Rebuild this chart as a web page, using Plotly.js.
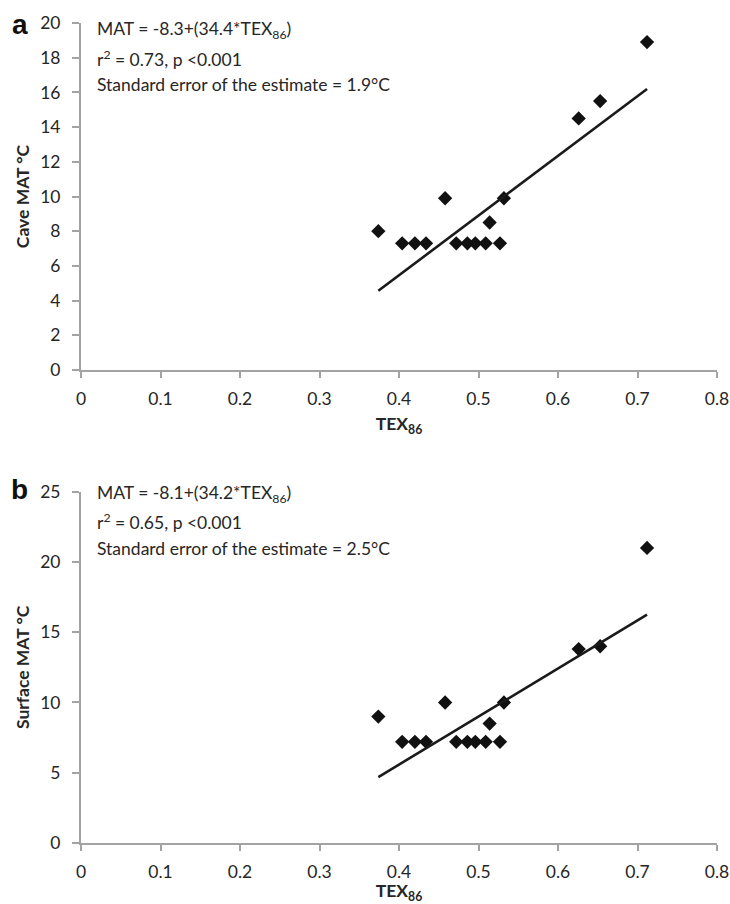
<!DOCTYPE html>
<html>
<head>
<meta charset="utf-8">
<script src="https://cdn.plot.ly/plotly-3.0.1.min.js"></script>
<style>html,body{margin:0;padding:0;background:#fff;}#chart{width:730px;height:904px;}</style>
</head>
<body>
<div id="chart"></div>
<script>
// ---- data ----
const tex86 = [0.374, 0.404, 0.420, 0.434, 0.458, 0.472, 0.486, 0.496, 0.509, 0.514, 0.527, 0.532, 0.626, 0.653, 0.712];
const caveMAT = [8.0, 7.3, 7.3, 7.3, 9.9, 7.3, 7.3, 7.3, 7.3, 8.5, 7.3, 9.9, 14.5, 15.5, 18.9];
const surfaceMAT = [9.0, 7.2, 7.2, 7.2, 10.0, 7.2, 7.2, 7.2, 7.2, 8.5, 7.2, 10.0, 13.8, 14.0, 21.0];
const caveFit = {intercept: -8.3, slope: 34.4};
const surfaceFit = {intercept: -8.1, slope: 34.2};
const xTicks = [0, 0.1, 0.2, 0.3, 0.4, 0.5, 0.6, 0.7, 0.8];
const caveTicks = [0, 2, 4, 6, 8, 10, 12, 14, 16, 18, 20];
const surfaceTicks = [0, 5, 10, 15, 20, 25];
const caveText = ["MAT = -8.3+(34.4*TEX<sub>86</sub>)", "r<sup>2</sup> = 0.73, p <0.001", "Standard error of the estimate = 1.9°C"];
const surfaceText = ["MAT = -8.1+(34.2*TEX<sub>86</sub>)", "r<sup>2</sup> = 0.65, p <0.001", "Standard error of the estimate = 2.5°C"];

// ---- layout helpers ----
const W = 730, H = 904;
const M = {l: 81, r: 13, t: 23, b: 61};
const plotH = H - M.t - M.b;
const py = p => (H - M.b - p) / plotH; // pixel y -> paper y
const px = p => (p - M.l) / (W - M.l - M.r);

const FONT = "Lato, 'Open Sans', 'DejaVu Sans', sans-serif";
const grey = "#a3a3a3";
const txt = "#262626";
const FS = 17.5;

const xMin = Math.min(...tex86), xMax = Math.max(...tex86);
function fitLine(fit) {
  return [fit.intercept + fit.slope * xMin, fit.intercept + fit.slope * xMax];
}

const marker = {symbol: "diamond", size: 11, color: "#111"};
const traces = [
  {x: tex86, y: caveMAT, mode: "markers", type: "scatter", marker: marker, xaxis: "x", yaxis: "y", hoverinfo: "skip"},
  {x: [xMin, xMax], y: fitLine(caveFit), mode: "lines", type: "scatter", line: {color: "#1a1a1a", width: 2.6}, xaxis: "x", yaxis: "y", hoverinfo: "skip"},
  {x: tex86, y: surfaceMAT, mode: "markers", type: "scatter", marker: marker, xaxis: "x2", yaxis: "y2", hoverinfo: "skip"},
  {x: [xMin, xMax], y: fitLine(surfaceFit), mode: "lines", type: "scatter", line: {color: "#1a1a1a", width: 2.6}, xaxis: "x2", yaxis: "y2", hoverinfo: "skip"}
];

function xAxis(anchor) {
  return {
    anchor: anchor, domain: [0, 1], range: [0, 0.8], tickvals: xTicks, ticktext: xTicks.map(String),
    showgrid: false, zeroline: false, showline: true, linecolor: grey, linewidth: 2,
    ticks: "outside", ticklen: 6, tickwidth: 2, tickcolor: grey, ticklabelstandoff: 6,
    tickfont: {family: FONT, size: FS, color: txt},
    title: {text: "<b>TEX<sub>86</sub></b>", font: {family: FONT, size: FS, color: txt}, standoff: 10}
  };
}
function yAxis(anchor, domain, range, ticks, title) {
  return {
    anchor: anchor, domain: domain, range: range, tickvals: ticks, ticktext: ticks.map(String),
    showgrid: false, zeroline: false, showline: true, linecolor: grey, linewidth: 2,
    ticks: "outside", ticklen: 7, tickwidth: 2, tickcolor: grey, ticklabelstandoff: 8,
    tickfont: {family: FONT, size: FS, color: txt},
    title: {text: "<b>" + title + "</b>", font: {family: FONT, size: FS, color: txt}, standoff: 6}
  };
}

const annotations = [];
function addText(lines, ys) {
  lines.forEach((t, i) => annotations.push({
    text: t, xref: "paper", yref: "paper", x: px(95), y: py(ys[i]), xanchor: "left", yanchor: "middle",
    showarrow: false, font: {family: FONT, size: FS, color: txt}
  }));
}
addText(caveText, [30, 58, 85]);
addText(surfaceText, [494, 521, 548]);
const LF = "'Liberation Sans', Arial, sans-serif";
annotations.push({text: "<b>a</b>", xref: "paper", yref: "paper", x: px(20), y: py(24), xanchor: "center", yanchor: "middle", showarrow: false, font: {family: LF, size: 28, color: "#111"}});
annotations.push({text: "<b>b</b>", xref: "paper", yref: "paper", x: px(20), y: py(489), xanchor: "center", yanchor: "middle", showarrow: false, font: {family: LF, size: 28, color: "#111"}});

const layout = {
  width: W, height: H, margin: M, showlegend: false,
  paper_bgcolor: "#fff", plot_bgcolor: "#fff",
  font: {family: FONT, color: txt},
  xaxis: xAxis("y"),
  yaxis: yAxis("x", [py(370), 1], [0, 20], caveTicks, "Cave MAT °C"),
  xaxis2: xAxis("y2"),
  yaxis2: yAxis("x2", [0, py(491.7)], [0, 25], surfaceTicks, "Surface MAT °C"),
  annotations: annotations
};

Plotly.newPlot("chart", traces, layout, {staticPlot: true, displayModeBar: false});
</script>
</body>
</html>
